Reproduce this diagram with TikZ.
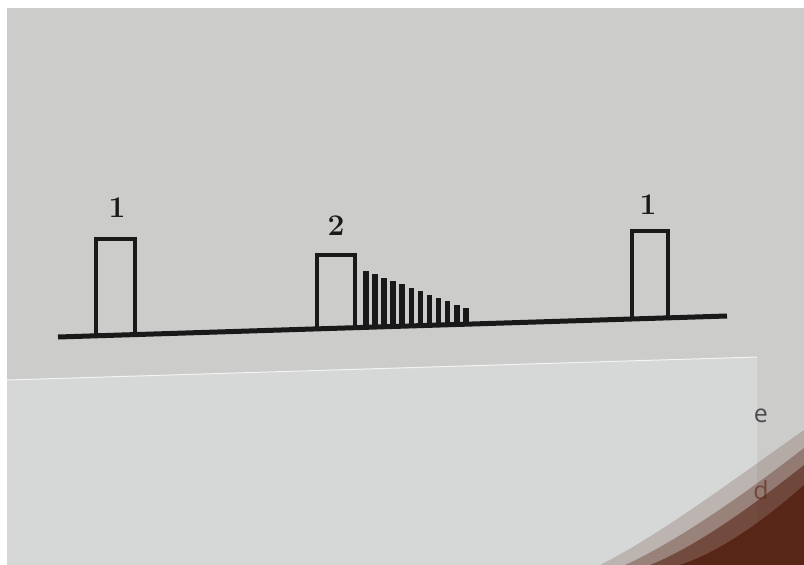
\documentclass[tikz,border=0pt]{standalone}
\usepackage{fontspec}
\newfontfamily\sheetfont{Open Sans}
\definecolor{paper}{RGB}{204,204,202}
\definecolor{sheet}{RGB}{214,216,216}
\definecolor{ink}{RGB}{25,25,25}
\definecolor{finger}{RGB}{88,38,22}
\tikzset{
  frame/.style={draw=ink, line width=4.5pt, line join=miter},
  baseln/.style={draw=ink, line width=5pt},
  barfill/.style={fill=ink},
  num/.style={inner sep=0pt, text=ink, font=\fontsize{30}{30}\selectfont\bfseries},
  stray/.style={inner sep=0pt, font=\sheetfont\fontsize{25}{25}\selectfont}
}
\begin{document}
\begin{tikzpicture}[x=1pt,y=-1pt]
\useasboundingbox (0,0) rectangle (804,565);
\fill[white] (0,0) rectangle (804,565);
\fill[paper] (7,8) rectangle (804,565);
% lower sheet
\fill[sheet] (7,380) -- (757,357) -- (757,565) -- (7,565) -- cycle;
\draw[white!70!sheet, line width=1pt] (7,380) -- (757,357);
\node[stray, text=black!70] (se) at (761,416) {e};
\node[stray, text=finger!60!paper] (sd) at (761,490) {d};
% finger shadow
\fill[finger, opacity=0.2] (600,565) .. controls (660,535) and (740,475) .. (804,430) -- (804,565) -- cycle;
\fill[finger, opacity=0.35] (625,565) .. controls (680,540) and (750,490) .. (804,448) -- (804,565) -- cycle;
\fill[finger, opacity=0.6] (650,565) .. controls (700,545) and (760,500) .. (804,465) -- (804,565) -- cycle;
\fill[finger] (680,565) .. controls (725,550) and (770,515) .. (804,485) -- (804,565) -- cycle;
% baseline
\coordinate (bl) at (58,337);
\coordinate (br) at (727,316);
\draw[baseln] (bl) -- (br);
% left pulse
\draw[frame] (96,336) -- (96,239) -- (135,239) -- (135,335);
\node[num] (l1) at (117,208) {1};
% middle pulse
\draw[frame] (317,329) -- (317,255) -- (355,255) -- (355,328);
\node[num] (l2) at (336,226) {2};
% decaying bars
\foreach \i in {0,...,11}{
  \pgfmathsetmacro{\bx}{363+9.1*\i}
  \pgfmathsetmacro{\bt}{270.7+3.4*\i}
  \pgfmathsetmacro{\bb}{337-0.0314*(\bx-58)+1}
  \fill[barfill] (\bx,\bt) rectangle (\bx+5.5,\bb);
}
% right pulse
\draw[frame] (632,319) -- (632,231) -- (668,231) -- (668,318);
\node[num] (r1) at (648,205) {1};
\end{tikzpicture}
\end{document}
